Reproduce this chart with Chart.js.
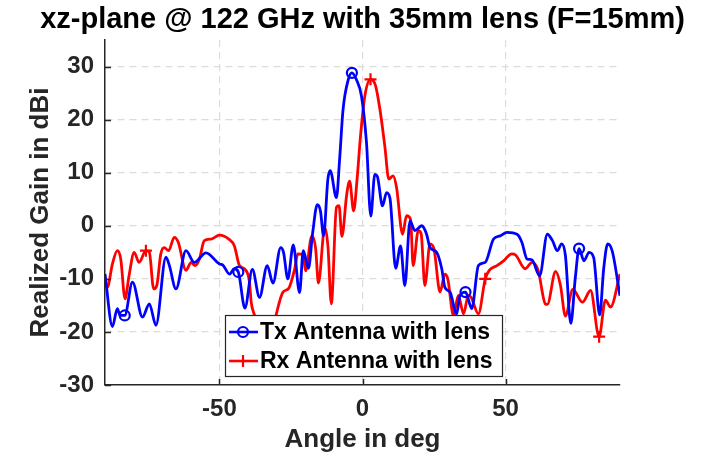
<!DOCTYPE html>
<html>
<head>
<meta charset="utf-8">
<script src="https://cdn.jsdelivr.net/npm/chart.js@4/dist/chart.umd.min.js"></script>
<style>
  html, body { margin: 0; padding: 0; background: #fff; }
  #wrap { position: relative; width: 710px; height: 458px; }
</style>
</head>
<body>
<div id="wrap"><canvas id="c" width="710" height="458"></canvas></div>
<script>
const chartTitle = 'xz-plane @ 122 GHz with 35mm lens (F=15mm)';
const xTitle = 'Angle in deg';
const yTitle = 'Realized Gain in dBi';
const seriesLabels = ['Tx Antenna with lens', 'Rx Antenna with lens'];

const xTicks = [-50, 0, 50];
const yTicks = [-30, -20, -10, 0, 10, 20, 30];

const txAngle = [-90,-87.4,-85.7,-84.7,-83.1,-80.4,-76.9,-74.5,-72.2,-68.7,-67.5,-65.2,-61.7,-58.8,-54.7,-50,-48.8,-46.5,-44.8,-43.4,-41.1,-38.5,-36,-33.3,-31.3,-28.6,-27.6,-26.1,-24.2,-22,-20.7,-18.9,-17.4,-15.8,-14.7,-13.6,-12.1,-11.3,-9.1,-8,-6.8,-5,-3.7,-2.1,-0.35,1.4,2.9,4.3,5.2,7,8.4,9.6,11.6,13.3,14.8,16.6,18.3,20.7,22.4,23.6,25.9,27.7,28.8,30.6,32.9,34.1,36,38.2,40.5,42.9,45.8,48.1,50.5,54,55.7,57.5,59.2,61.9,64.6,66.4,68.1,69.6,70.9,72.8,74.4,75.7,77.4,79.2,80.8,82.9,84.3,85.7,87.3,90];
const txGain = [-9.1,-19,-15.6,-16.9,-16.9,-10.6,-17.2,-14.7,-18.75,-5.9,-7.5,-11.9,-4.7,-6.9,-5.1,-7.2,-7.4,-9.1,-8.1,-8.7,-15.5,-8.2,-13.5,-7.5,-10.8,-4.1,-5,-10,-3.6,-12.6,-4.7,-8,-1.25,4,2.8,-1.9,8.8,10.4,5.3,12.5,21.9,27.5,28.8,27.5,24.4,15.6,1.8,9.7,9.3,3.75,6.25,5.2,-8,-3.8,-11.25,0.9,-0.9,0,-1.6,-4.1,-5,-8.1,-11.6,-12.5,-16.6,-13.1,-12.5,-15.6,-7.5,-6.9,-2.5,-1.9,-1.25,-1.6,-3.1,-6.25,-6.4,-9.4,-1.6,-2.8,-4.7,-3.4,-5.5,-18.4,-9.7,-4.3,-6.6,-5,-6,-16.8,-8.1,-3.4,-4.8,-13.2];

const rxAngle = [-90,-89.2,-87.4,-85.7,-84.5,-83,-81.6,-79.8,-78.1,-75.7,-74.5,-73,-71.9,-70.5,-69.3,-67.8,-65.8,-64.4,-61.7,-59.9,-58.5,-57,-55.3,-52.9,-50,-46.5,-44.8,-43,-41.3,-39.5,-38.9,-37.7,-36.2,-33,-30.1,-27.8,-25.8,-23.7,-22.6,-20.8,-19.9,-17.7,-16.4,-15.4,-13.2,-12.1,-10.9,-9.1,-8.2,-7.2,-5.5,-4.5,-3.1,-1.9,-0.7,0.8,2.8,4.5,6.1,7.8,9.2,10.7,11.9,14,15.4,16.8,17.7,19.5,20.5,21.8,23.6,25,27.1,28.8,29.8,31.8,33.5,35.3,37,38,40.5,42.9,44.3,47,49.3,52.2,53.5,56.9,59.2,61.4,63.9,64.6,67.5,69.2,70.9,73.5,76.9,79.7,82.7,84.9,86.7,90];
const rxGain = [-10.6,-11.6,-7.2,-4.7,-6.25,-13.75,-9.4,-5,-6.9,-4.7,-5,-11.9,-11.25,-5.3,-4.1,-4.7,-2.2,-3.1,-8.4,-6.9,-7.5,-6.25,-2.8,-2.5,-1.75,-2.6,-3.75,-7.5,-8.1,-10.6,-14.4,-17,-21,-24,-16.6,-12.5,-11.8,-8.1,-5.3,-5.4,-8.5,-1.9,-4.2,-10.8,-0.3,-3.75,-14.7,3.5,3.8,-2,6,8.4,2.8,8.75,16.9,24.4,27.6,26.5,21.9,15,8.8,9.4,7.2,-1.6,1.9,1.2,-7.5,-0.9,-1.5,-11.25,-3.4,-4.4,-12.5,-9.1,-10,-16.9,-13.1,-16.6,-13.1,-13.5,-16.6,-10,-8.4,-7.5,-6.6,-5.3,-5.5,-8.1,-6.9,-8.4,-14.7,-14.8,-8.6,-11.25,-17,-12,-14.4,-12.2,-20.9,-14,-15.3,-9.1];

const txMarkerAngles = [-83.1, -43.4, -3.7, 36, 75.7];
const rxMarkerAngles = [-75.7, -36.2, 2.8, 42.9, 82.7];

const FONT = "'Liberation Sans', Arial, Helvetica, sans-serif";
const AXIS_COLOR = '#262626';

function toPoints(angles, gains) {
  return angles.map((a, i) => ({ x: a, y: gains[i] }));
}
function markerRadius(angles, markers, r) {
  return (ctx) => markers.includes(angles[ctx.dataIndex]) ? r : 0;
}

const titlePlugin = {
  id: 'axesTitle',
  afterDraw(chart) {
    const { ctx, chartArea } = chart;
    ctx.save();
    ctx.fillStyle = '#000';
    ctx.font = `bold 29px ${FONT}`;
    ctx.textAlign = 'center';
    ctx.textBaseline = 'middle';
    ctx.fillText(chartTitle, (chartArea.left + chartArea.right) / 2, 20);
    ctx.restore();
  }
};

const inwardTicks = {
  id: 'inwardTicks',
  afterDatasetsDraw(chart) {
    const { ctx, chartArea, scales } = chart;
    ctx.save();
    ctx.strokeStyle = AXIS_COLOR;
    ctx.lineWidth = 1.5;
    ctx.beginPath();
    yTicks.forEach(v => {
      const y = Math.round(scales.y.getPixelForValue(v)) + 0.5;
      ctx.moveTo(chartArea.left, y);
      ctx.lineTo(chartArea.left + 6, y);
    });
    xTicks.forEach(v => {
      const x = Math.round(scales.x.getPixelForValue(v)) + 0.5;
      ctx.moveTo(x, chartArea.bottom);
      ctx.lineTo(x, chartArea.bottom - 6);
    });
    ctx.stroke();
    ctx.restore();
  }
};

const boxLegend = {
  id: 'boxLegend',
  afterDraw(chart) {
    const ctx = chart.ctx;
    const L = 225, T = 315, W = 277, H = 61;
    ctx.save();
    ctx.fillStyle = '#fff';
    ctx.fillRect(L, T, W, H);
    ctx.strokeStyle = AXIS_COLOR;
    ctx.lineWidth = 1.2;
    ctx.strokeRect(L + 0.5, T + 0.5, W, H);
    chart.data.datasets.forEach((ds, i) => {
      const y = T + 17 + i * 29;
      ctx.strokeStyle = ds.borderColor;
      ctx.lineWidth = 2.6;
      ctx.beginPath();
      ctx.moveTo(L + 4, y);
      ctx.lineTo(L + 33, y);
      ctx.stroke();
      const cx = L + 18;
      ctx.lineWidth = 2.2;
      ctx.beginPath();
      if (ds.pointStyle === 'circle') {
        ctx.arc(cx, y, 5, 0, Math.PI * 2);
      } else {
        ctx.moveTo(cx - 6, y); ctx.lineTo(cx + 6, y);
        ctx.moveTo(cx, y - 6); ctx.lineTo(cx, y + 6);
      }
      ctx.stroke();
      ctx.fillStyle = '#000';
      ctx.font = `bold 23px ${FONT}`;
      ctx.textAlign = 'left';
      ctx.textBaseline = 'middle';
      ctx.fillText(ds.label, L + 35, y + 1);
    });
    ctx.restore();
  }
};

new Chart(document.getElementById('c'), {
  type: 'line',
  data: {
    datasets: [
      {
        label: seriesLabels[0],
        data: toPoints(txAngle, txGain),
        borderColor: '#0000ff',
        borderWidth: 2.8,
        cubicInterpolationMode: 'monotone',
        pointStyle: 'circle',
        pointRadius: markerRadius(txAngle, txMarkerAngles, 5),
        pointHoverRadius: markerRadius(txAngle, txMarkerAngles, 5),
        pointBorderColor: '#0000ff',
        pointBackgroundColor: 'rgba(0,0,0,0)',
        pointBorderWidth: 2.2,
        fill: false
      },
      {
        label: seriesLabels[1],
        data: toPoints(rxAngle, rxGain),
        borderColor: '#ff0000',
        borderWidth: 2.8,
        cubicInterpolationMode: 'monotone',
        pointStyle: 'cross',
        pointRadius: markerRadius(rxAngle, rxMarkerAngles, 6),
        pointHoverRadius: markerRadius(rxAngle, rxMarkerAngles, 6),
        pointBorderColor: '#ff0000',
        pointBackgroundColor: 'rgba(0,0,0,0)',
        pointBorderWidth: 2.2,
        fill: false
      }
    ]
  },
  options: {
    responsive: false,
    animation: false,
    events: [],
    layout: { padding: { left: 0, right: 90, top: 40, bottom: 0 } },
    plugins: {
      legend: { display: false },
      title: { display: false },
      tooltip: { enabled: false }
    },
    scales: {
      x: {
        type: 'linear',
        min: -90,
        max: 90,
        afterBuildTicks: (s) => { s.ticks = xTicks.map(v => ({ value: v })); },
        afterFit: (s) => { s.height = 73; },
        ticks: {
          color: AXIS_COLOR,
          font: { family: FONT, size: 24, weight: 'bold' },
          padding: 10,
          maxRotation: 0
        },
        grid: { color: '#dcdcdc', lineWidth: 1.2, drawTicks: false },
        border: { display: true, color: AXIS_COLOR, width: 1.5, dash: [7, 5] },
        title: {
          display: true,
          text: xTitle,
          color: AXIS_COLOR,
          font: { family: FONT, size: 26, weight: 'bold' },
          padding: { top: 0, bottom: 3 }
        }
      },
      y: {
        type: 'linear',
        min: -30,
        max: 35,
        afterBuildTicks: (s) => { s.ticks = yTicks.map(v => ({ value: v })); },
        afterFit: (s) => { s.width = 105; },
        ticks: {
          color: AXIS_COLOR,
          font: { family: FONT, size: 24, weight: 'bold' },
          padding: 11
        },
        grid: { color: '#dcdcdc', lineWidth: 1.2, drawTicks: false },
        border: { display: true, color: AXIS_COLOR, width: 1.5, dash: [7, 5] },
        title: {
          display: true,
          text: yTitle,
          color: AXIS_COLOR,
          font: { family: FONT, size: 26, weight: 'bold' },
          padding: { top: 25, bottom: 0 }
        }
      }
    }
  },
  plugins: [inwardTicks, titlePlugin, boxLegend]
});
</script>
</body>
</html>
